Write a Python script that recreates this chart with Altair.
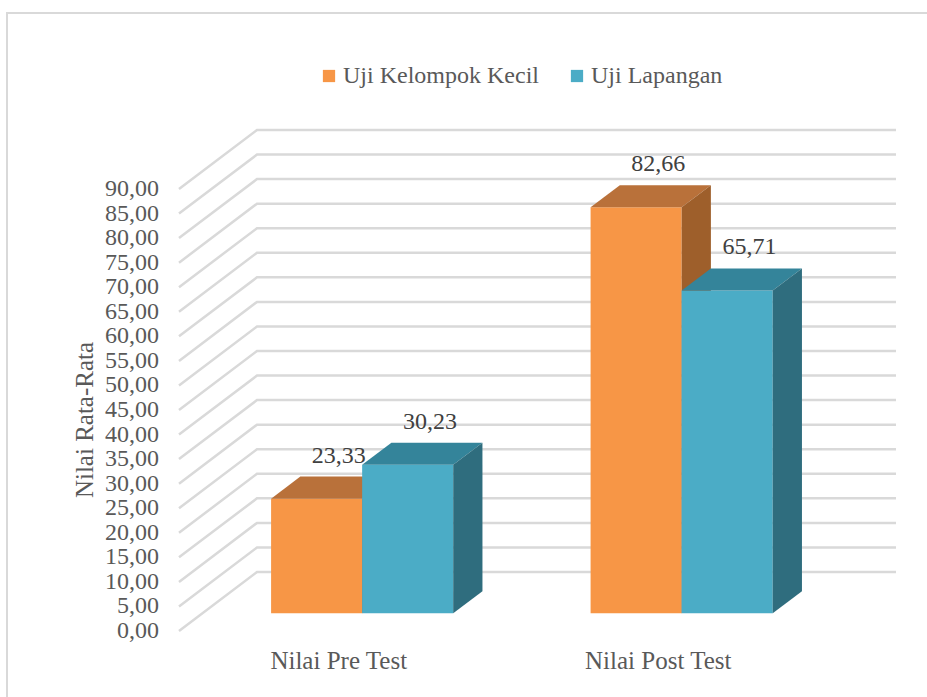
import altair as alt
import pandas as pd

# ---------------- data ----------------
categories = ["Nilai Pre Test", "Nilai Post Test"]
series = ["Uji Kelompok Kecil", "Uji Lapangan"]
uji_kelompok_kecil = [23.33, 82.66]
uji_lapangan = [30.23, 65.71]
tick_values = [0, 5, 10, 15, 20, 25, 30, 35, 40, 45, 50, 55, 60, 65, 70, 75, 80, 85, 90]
y_title = "Nilai Rata-Rata"

# ---------------- style / layout ----------------
W, H = 927, 697
X0_PX = 179.0        # front-plane left edge of the category axis
PX_PER_CAT = 319.5   # width of one category band (front plane)
Y0_PX = 631.0        # pixel row of value 0 on front plane
PX_PER_UNIT = 4.911  # pixels per value unit
DEPTH_DX_PX, DEPTH_DY_PX = 78.0, 59.0  # oblique depth vector of the back wall
BAR_FRONT = 0.30     # depth of bar front face (fraction of wall depth)
BAR_THICK = 0.375    # bar depth (fraction of wall depth)
BAR_W = 0.285        # bar width in category units

FONT = "'Liberation Serif', 'Times New Roman', serif"
TEXT_GRAY = "#595959"
GRID = "#D9D9D9"
colors = {
    "Uji Kelompok Kecil": {"front": "#F79646", "top": "#B9713A", "side": "#9E5F2B"},
    "Uji Lapangan": {"front": "#4BACC6", "top": "#34849A", "side": "#2F6D7E"},
}

DX = DEPTH_DX_PX / PX_PER_CAT
DY = DEPTH_DY_PX / PX_PER_UNIT
xscale = alt.Scale(domain=[-X0_PX / PX_PER_CAT, (W - X0_PX) / PX_PER_CAT], nice=False, zero=False)
yscale = alt.Scale(domain=[-(H - Y0_PX) / PX_PER_UNIT, Y0_PX / PX_PER_UNIT], nice=False, zero=False)


def X(field="x"):
    return alt.X(f"{field}:Q", scale=xscale, axis=None)


def Y(field="y"):
    return alt.Y(f"{field}:Q", scale=yscale, axis=None)


# ---------------- geometry tables ----------------
grid_rows = []
for v in tick_values:
    grid_rows += [
        {"g": v, "o": 0, "x": 0.0, "y": v},
        {"g": v, "o": 1, "x": DX, "y": v + DY},
        {"g": v, "o": 2, "x": len(categories) + DX, "y": v + DY},
    ]
grid_df = pd.DataFrame(grid_rows)

tick_df = pd.DataFrame({
    "x": [0.0] * len(tick_values),
    "y": tick_values,
    "label": [f"{v:.2f}".replace(".", ",") for v in tick_values],
})

cat_df = pd.DataFrame({
    "x": [i + 0.5 for i in range(len(categories))],
    "y": [0.0] * len(categories),
    "label": categories,
})

title_df = pd.DataFrame({"x": [0.0], "y": [45.0], "label": [y_title]})

values = {"Uji Kelompok Kecil": uji_kelompok_kecil, "Uji Lapangan": uji_lapangan}
t = BAR_THICK
front_rows, top_rows, side_rows, lab_rows = [], [], [], []
for j, s in enumerate(series):
    front_rows.append([])
    top_rows.append([])
    side_rows.append([])
    for i, c in enumerate(categories):
        v = values[s][i]
        center = i + 0.5
        x0 = center - BAR_W + j * BAR_W
        x1 = x0 + BAR_W
        xa, xb = x0 + BAR_FRONT * DX, x1 + BAR_FRONT * DX
        ya, yb = BAR_FRONT * DY, v + BAR_FRONT * DY
        key = f"{s}-{c}"
        front_rows[j].append({"series": s, "cat": c, "x": xa, "x2": xb, "y": ya, "y2": yb})
        for (px, lo, hi) in [
            (xa, yb, yb),
            (xa + t * DX, yb, yb + t * DY),
            (xb, yb, yb + t * DY),
            (xb + t * DX, yb + t * DY, yb + t * DY),
        ]:
            top_rows[j].append({"k": key, "x": px, "y": lo, "y2": hi, "fill": colors[s]["top"]})
        for (px, lo, hi) in [
            (xb, ya, yb),
            (xb + t * DX, ya + t * DY, yb + t * DY),
        ]:
            side_rows[j].append({"k": key, "x": px, "y": lo, "y2": hi, "fill": colors[s]["side"]})
        lab_rows.append({"x": (xa + xb) / 2 + t * DX, "y": yb + t * DY,
                         "label": f"{v:.2f}".replace(".", ",")})

# ---------------- layers ----------------
frame = alt.Chart(pd.DataFrame({"a": [0]})).mark_rect(
    fill="white", stroke=GRID, strokeWidth=2
).encode(x=alt.value(7), x2=alt.value(W + 10), y=alt.value(13), y2=alt.value(H + 10))

grid = alt.Chart(grid_df).mark_line(color=GRID, strokeWidth=2.5).encode(
    x=X(), y=Y(), detail="g:N", order="o:Q"
)

ticks = alt.Chart(tick_df).mark_text(
    align="right", baseline="middle", dx=-20, font=FONT, fontSize=24, color=TEXT_GRAY
).encode(x=X(), y=Y(), text="label:N")

cats = alt.Chart(cat_df).mark_text(
    align="center", baseline="middle", dy=30, font=FONT, fontSize=25, color=TEXT_GRAY
).encode(x=X(), y=Y(), text="label:N")

# with angle 270 the offsets act in the rotated frame: dy<0 moves left, dx<0 moves down
ytitle = alt.Chart(title_df).mark_text(
    align="center", baseline="middle", angle=270, dx=-10, dy=-94, font=FONT, fontSize=25, color=TEXT_GRAY
).encode(x=X(), y=Y(), text="label:N")

color_scale = alt.Scale(domain=series, range=[colors[k]["front"] for k in series])
bar_layers = []
for j, s in enumerate(series):
    fdf = pd.DataFrame(front_rows[j])
    if j == 0:
        legend = alt.Legend(
            orient="none", legendX=317, legendY=64, direction="horizontal", title=None,
            symbolType="square", symbolSize=150, symbolStrokeWidth=0, padding=0,
            labelFont=FONT, labelFontSize=24, labelColor=TEXT_GRAY, labelLimit=400,
            labelOffset=2, columnPadding=26,
        )
    else:
        legend = None
    front = alt.Chart(fdf).mark_rect().encode(
        x=X(), x2="x2:Q", y=Y(), y2="y2:Q",
        color=alt.Color("series:N", scale=color_scale, legend=legend),
    )
    top = alt.Chart(pd.DataFrame(top_rows[j])).mark_area(orient="vertical").encode(
        x=X(), y=Y(), y2="y2:Q", detail="k:N", fill=alt.Fill("fill:N", scale=None)
    )
    side = alt.Chart(pd.DataFrame(side_rows[j])).mark_area(orient="vertical").encode(
        x=X(), y=Y(), y2="y2:Q", detail="k:N", fill=alt.Fill("fill:N", scale=None)
    )
    bar_layers += [front, top, side]

labels = alt.Chart(pd.DataFrame(lab_rows)).mark_text(
    align="center", baseline="middle", dx=-7, dy=-21, font=FONT, fontSize=24, color="#404040"
).encode(x=X(), y=Y(), text="label:N")

chart = alt.layer(frame, grid, ticks, cats, ytitle, *bar_layers, labels).properties(
    width=W, height=H, padding=0, autosize=alt.AutoSizeParams(type="none"),
    background="white",
).configure_view(stroke=None).configure_legend(labelFont=FONT, labelFontSize=24)

chart.save("out.html", embed_options={"renderer": "svg", "actions": False})
